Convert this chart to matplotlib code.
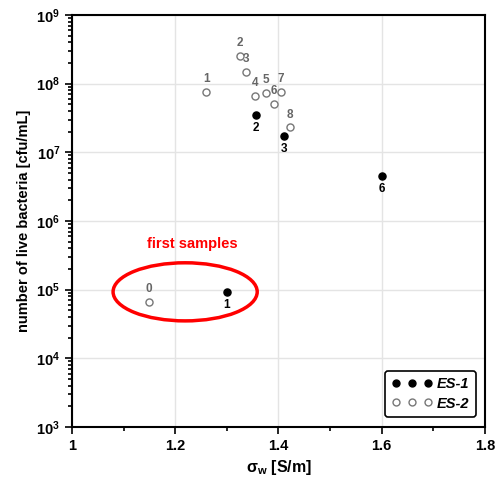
import matplotlib
matplotlib.use("Agg")
import matplotlib.pyplot as plt
from matplotlib.patches import Ellipse
from matplotlib.lines import Line2D
from matplotlib.ticker import NullFormatter
import numpy as np

plt.rcParams["font.family"] = ["Liberation Sans", "DejaVu Sans"]
plt.rcParams["mathtext.fontset"] = "custom"
plt.rcParams["mathtext.rm"] = "Liberation Sans"
plt.rcParams["mathtext.bf"] = "Liberation Sans:bold"

# ES-1 samples (filled markers)
es1_sigma = [1.300, 1.357, 1.411, 1.601]
es1_count = [9.3e4, 3.5e7, 1.7e7, 4.5e6]
es1_labels = ["1", "2", "3", "6"]

# ES-2 samples (open markers)
es2_sigma = [1.149, 1.260, 1.326, 1.337, 1.355, 1.376, 1.391, 1.405, 1.422]
es2_count = [6.6e4, 7.6e7, 2.5e8, 1.5e8, 6.6e7, 7.3e7, 5.1e7, 7.6e7, 2.3e7]
es2_labels = ["0", "1", "2", "3", "4", "5", "6", "7", "8"]

fig = plt.figure(figsize=(5.01, 4.98), dpi=100)
ax = fig.add_axes([0.1437, 0.1426, 0.8243, 0.8274])

ax.set_yscale("log")
ax.set_xlim(1, 1.8)
ax.set_ylim(1e3, 1e9)
ax.set_xticks([1, 1.2, 1.4, 1.6, 1.8])
ax.set_xticklabels(["1", "1.2", "1.4", "1.6", "1.8"])
ax.set_xticks(np.arange(1.1, 1.8, 0.2), minor=True)
ax.xaxis.set_minor_formatter(NullFormatter())
ax.yaxis.set_minor_formatter(NullFormatter())
ax.grid(True, which="major", color="#e4e4e4", lw=1)
ax.set_axisbelow(True)

ax.tick_params(which="both", direction="out", width=1.2, labelsize=10.5)
ax.tick_params(which="major", length=5)
ax.tick_params(which="minor", length=3)
for lbl in ax.get_xticklabels() + ax.get_yticklabels():
    lbl.set_fontweight("bold")
for s in ax.spines.values():
    s.set_linewidth(1.5)

ax.scatter(es2_sigma, es2_count, s=26, facecolor="white",
           edgecolor="#777777", linewidth=1.0, zorder=3)
ax.scatter(es1_sigma, es1_count, s=26, color="black", zorder=4)

for x, y, t in zip(es2_sigma, es2_count, es2_labels):
    ax.annotate(t, (x, y), xytext=(0, 5), textcoords="offset points",
                ha="center", va="bottom", fontsize=8.5, fontweight="bold",
                color="#666666")
for x, y, t in zip(es1_sigma, es1_count, es1_labels):
    ax.annotate(t, (x, y), xytext=(0, -5), textcoords="offset points",
                ha="center", va="top", fontsize=8.5, fontweight="bold",
                color="black")

# highlight the first samples
ax.add_patch(Ellipse((0.274, 0.328), 0.349, 0.141, transform=ax.transAxes,
                     fill=False, edgecolor="red", lw=2.5, zorder=5))
ax.text(0.291, 0.444, "first samples", transform=ax.transAxes, color="red",
        fontsize=10.5, fontweight="bold", ha="center", va="center")

ax.set_xlabel(r"σ$_\mathbf{w}$ [S/m]", fontsize=11.5, fontweight="bold",
              labelpad=4)
ax.set_ylabel("number of live bacteria [cfu/mL]", fontsize=10.5,
              fontweight="bold", labelpad=4)

handles = [
    Line2D([], [], ls="none", marker="o", ms=5, color="black"),
    Line2D([], [], ls="none", marker="o", ms=5, mfc="white",
           mec="#777777"),
]
leg = ax.legend(handles, ["ES-1", "ES-2"], loc="lower right",
                bbox_to_anchor=(0.978, 0.024), borderaxespad=0,
                numpoints=3, fancybox=True, framealpha=1,
                edgecolor="black", handlelength=2.8, handletextpad=0.3,
                borderpad=0.45, labelspacing=0.35,
                prop={"weight": "bold", "style": "italic", "size": 10.5})
leg.get_frame().set_linewidth(1.2)

fig.savefig("out.png", dpi=100)
